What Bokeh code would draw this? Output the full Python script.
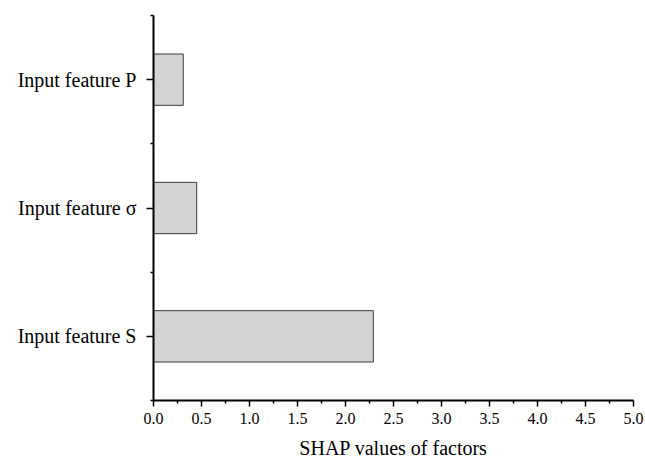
from bokeh.plotting import figure
from bokeh.models import Range1d, FixedTicker, ColumnDataSource
from bokeh.embed import file_html
from bokeh.resources import INLINE

categories = ["Input feature S", "Input feature σ", "Input feature P"]
shap_values = [2.29, 0.45, 0.31]
x_ticks = [0.0, 0.5, 1.0, 1.5, 2.0, 2.5, 3.0, 3.5, 4.0, 4.5, 5.0]
x_minor = [0.25, 0.75, 1.25, 1.75, 2.25, 2.75, 3.25, 3.75, 4.25, 4.75]
x_title = "SHAP values of factors"

pos = [i + 0.5 for i in range(len(categories))]
src = ColumnDataSource(dict(y=pos, v=shap_values, cat=categories))

FONT = "Liberation Serif"

p = figure(width=645, height=461, output_backend="svg", toolbar_location=None,
           x_range=Range1d(0, 5), y_range=Range1d(0, len(categories)),
           min_border_left=153, min_border_top=15, min_border_right=12, min_border_bottom=58)
p.hbar(y="y", right="v", left=0, height=0.4, source=src,
       fill_color="#d3d3d3", line_color="#3c3c3c", line_width=1)

p.xgrid.visible = False
p.ygrid.visible = False
p.outline_line_color = None

xa = p.xaxis[0]
xa.ticker = FixedTicker(ticks=x_ticks, minor_ticks=x_minor)
xa.major_label_overrides = {t: f"{t:.1f}" for t in x_ticks}
xa.axis_label = x_title

ya = p.yaxis[0]
ya.ticker = FixedTicker(ticks=pos, minor_ticks=[float(i) for i in range(len(categories) + 1)])
ya.major_label_overrides = {y: c for y, c in zip(pos, categories)}

for ax in (xa, ya):
    ax.axis_line_width = 2
    ax.axis_line_color = "black"
    ax.major_tick_line_width = 1.5
    ax.minor_tick_line_width = 1.5
    ax.major_tick_in = 0
    ax.minor_tick_in = 0
    ax.major_label_text_font = FONT
    ax.axis_label_text_font = FONT
    ax.axis_label_text_font_style = "normal"
    ax.major_label_text_color = "black"
    ax.axis_label_text_color = "black"

xa.major_tick_out = 6
xa.minor_tick_out = 3
xa.major_label_text_font_size = "16px"
xa.major_label_standoff = 6
xa.axis_label_text_font_size = "20px"
xa.axis_label_standoff = 10

ya.major_tick_out = 7
ya.minor_tick_out = 3
ya.major_label_text_font_size = "20px"
ya.major_label_standoff = 10

open("out.html", "w").write(file_html(p, INLINE))
